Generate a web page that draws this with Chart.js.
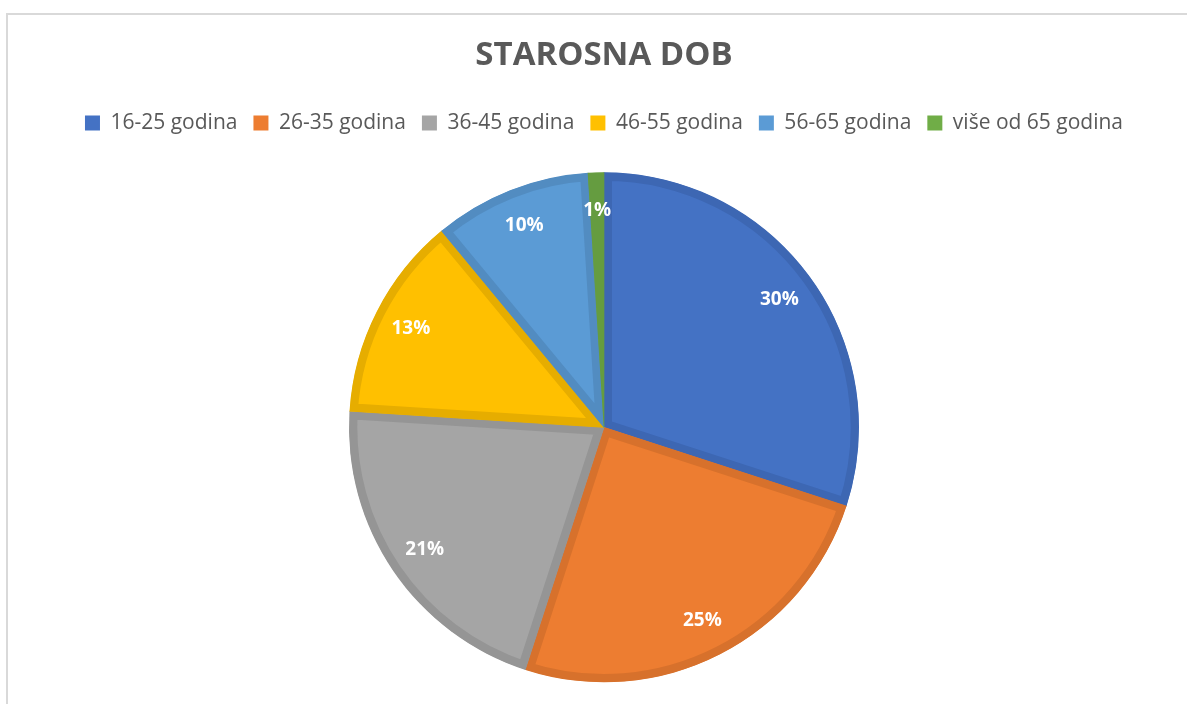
<!DOCTYPE html>
<html lang="hr">
<head>
    <meta charset="UTF-8">
    <title>Starosna dob</title>
    <script src="https://cdn.jsdelivr.net/npm/chart.js"></script>
    <style>
        html, body {
            margin: 0;
            padding: 0;
            background: #ffffff;
            overflow: hidden;
            width: 1187px;
            height: 704px;
        }
        .frame {
            position: absolute;
            left: 6px;
            top: 13px;
            width: 1200px;
            height: 720px;
            border-left: 2px solid #d9d9d9;
            border-top: 2px solid #d9d9d9;
        }
        .chart-container {
            position: absolute;
            left: 0;
            top: 0;
            width: 1187px;
            height: 760px;
        }
    </style>
</head>
<body>
    <div class="frame"></div>
    <div class="chart-container">
        <canvas id="ageChart"></canvas>
    </div>

    <script>
        // podaci
        const categories = ['16-25 godina', '26-35 godina', '36-45 godina', '46-55 godina', '56-65 godina', 'više od 65 godina'];
        const shares = [30, 25, 21, 13, 10, 1];
        const fillColors = ['#4472C4', '#ED7D31', '#A5A5A5', '#FFC000', '#5B9BD5', '#70AD47'];
        const edgeColors = ['#3D67B3', '#D7712C', '#959595', '#E6AD00', '#528CC1', '#659C40'];

        // postotci na kriskama
        const sliceLabels = {
            id: 'sliceLabels',
            afterDatasetsDraw(chart) {
                const ctx = chart.ctx;
                const meta = chart.getDatasetMeta(0);
                const total = shares.reduce((a, b) => a + b, 0);
                ctx.save();
                ctx.font = 'bold 19px "Open Sans"';
                ctx.fillStyle = '#ffffff';
                ctx.textAlign = 'center';
                ctx.textBaseline = 'middle';
                meta.data.forEach((arc, i) => {
                    const p = arc.getProps(['x', 'y', 'startAngle', 'endAngle', 'outerRadius'], true);
                    const mid = (p.startAngle + p.endAngle) / 2;
                    const r = p.outerRadius * 0.85;
                    const pct = Math.round(shares[i] / total * 100) + '%';
                    ctx.fillText(pct, p.x + Math.cos(mid) * r, p.y + Math.sin(mid) * r);
                });
                ctx.restore();
            }
        };

        const ctx = document.getElementById('ageChart').getContext('2d');
        new Chart(ctx, {
            type: 'pie',
            data: {
                labels: categories,
                datasets: [{
                    data: shares,
                    backgroundColor: fillColors,
                    borderColor: edgeColors,
                    borderWidth: 8,
                    borderAlign: 'inner'
                }]
            },
            options: {
                responsive: true,
                maintainAspectRatio: false,
                animation: false,
                radius: 255,
                layout: {
                    padding: { left: 21, right: 0, top: 0, bottom: 49 }
                },
                plugins: {
                    title: {
                        display: true,
                        text: 'STAROSNA DOB',
                        color: '#595959',
                        font: { family: '"Open Sans"', size: 33, weight: 'bold' },
                        padding: { top: 36, bottom: 21 }
                    },
                    legend: {
                        display: true,
                        position: 'top',
                        labels: {
                            color: '#595959',
                            boxWidth: 15,
                            boxHeight: 15,
                            padding: 16,
                            font: { family: '"Open Sans"', size: 21 },
                            generateLabels: (chart) => {
                                return Chart.overrides.pie.plugins.legend.labels.generateLabels(chart).map(item => {
                                    item.lineWidth = 0;
                                    item.strokeStyle = item.fillStyle;
                                    return item;
                                });
                            }
                        }
                    },
                    tooltip: { enabled: false }
                }
            },
            plugins: [sliceLabels]
        });
    </script>
</body>
</html>
